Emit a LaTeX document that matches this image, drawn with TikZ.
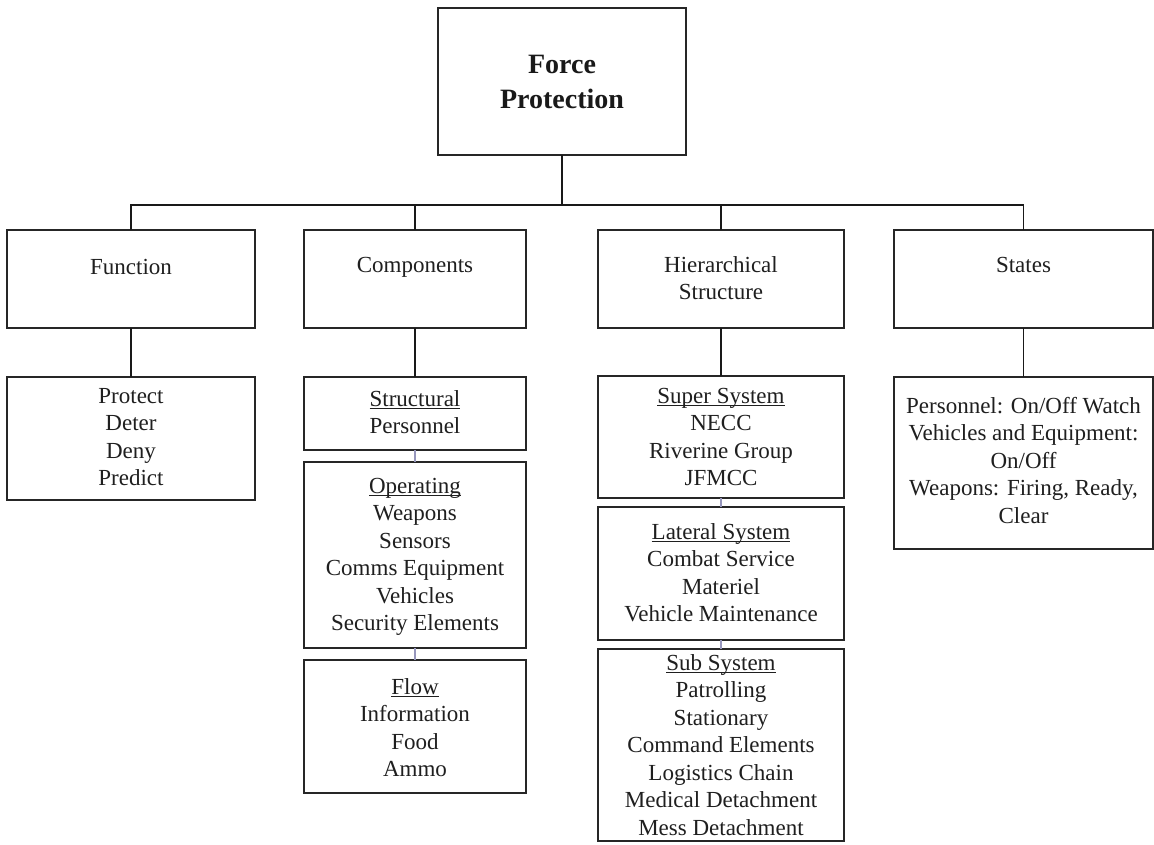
\documentclass[tikz,border=0pt]{standalone}
\usepackage{fontspec}
\setmainfont{Liberation Serif}
\definecolor{linkc}{RGB}{150,150,188}
\newcommand{\myul}[1]{\setbox0\hbox{#1}\rlap{\rule[-2.6pt]{\wd0}{1.1pt}}\box0}
\newcommand{\myst}{\rule{0pt}{16pt}}
\begin{document}
\begin{tikzpicture}[x=1pt,y=-1pt,
  box/.style={draw=black!85, line width=1.8pt, anchor=north west, inner sep=0pt, outer sep=0pt},
  txt/.style={anchor=north, align=center, inner sep=0pt, text=black!88,
    font=\fontsize{23}{27.5}\selectfont},
  ttl/.style={anchor=north, align=center, inner sep=0pt, text=black!90,
    font=\fontsize{28}{35}\selectfont\bfseries},
  conn/.style={draw=black!90, line width=1.8pt},
  link/.style={draw=linkc, line width=1.2pt}]
\useasboundingbox (0,0) rectangle (1154,844);
\fill[white] (0,0) rectangle (1154,844);
% title
\node[box, minimum width=248, minimum height=147] (title) at (438,8) {};
\node[ttl] (ttitle) at (562,53) {\rule{0pt}{20pt}Force\\Protection};
% header boxes
\node[box, minimum width=248, minimum height=98] (fun) at (7,230) {};
\node[box, minimum width=222, minimum height=98] (comp) at (304,230) {};
\node[box, minimum width=246, minimum height=98] (hier) at (598,230) {};
\node[box, minimum width=259, minimum height=98] (stat) at (894,230) {};
\node[txt] (tfun) at (fun.north |- 0,258) {\myst Function};
\node[txt] (tcomp) at (comp.north |- 0,256) {\myst Components};
\node[txt] (thier) at (hier.north |- 0,256) {\myst Hierarchical\\Structure};
\node[txt] (tstat) at (stat.north |- 0,256) {\myst States};
% detail boxes
\node[box, minimum width=248, minimum height=123] (fund) at (7,377) {};
\node[txt] (tfund) at (fund.north |- 0,387) {\myst Protect\\Deter\\Deny\\Predict};
\node[box, minimum width=222, minimum height=73] (struct) at (304,377) {};
\node[txt] (tstruct) at (struct.north |- 0,390) {\myst\myul{Structural}\\Personnel};
\node[box, minimum width=222, minimum height=186] (oper) at (304,462) {};
\node[txt] (toper) at (oper.north |- 0,477) {\myst\myul{Operating}\\Weapons\\Sensors\\Comms Equipment\\Vehicles\\Security Elements};
\node[box, minimum width=222, minimum height=133] (flow) at (304,660) {};
\node[txt] (tflow) at (flow.north |- 0,678) {\myst\myul{Flow}\\Information\\Food\\Ammo};
\node[box, minimum width=246, minimum height=122] (super) at (598,376) {};
\node[txt] (tsuper) at (super.north |- 0,387) {\myst\myul{Super System}\\NECC\\Riverine Group\\JFMCC};
\node[box, minimum width=246, minimum height=133] (lat) at (598,507) {};
\node[txt] (tlat) at (lat.north |- 0,523) {\myst\myul{Lateral System}\\Combat Service\\Materiel\\Vehicle Maintenance};
\node[box, minimum width=246, minimum height=192] (sub) at (598,649) {};
\node[txt] (tsub) at (sub.north |- 0,654) {\myst\myul{Sub System}\\Patrolling\\Stationary\\Command Elements\\Logistics Chain\\Medical Detachment\\Mess Detachment};
\node[box, minimum width=259, minimum height=172] (statd) at (894,377) {};
\node[txt] (tstatd) at (statd.north |- 0,397) {\myst Personnel: On/Off Watch\\Vehicles and Equipment:\\On/Off\\Weapons: Firing, Ready,\\Clear};
% connectors
\coordinate (bus) at (title.south |- 0,205);
\draw[conn] (title.south) -- (bus);
\draw[conn] (bus) -| (fun.north);
\draw[conn] (bus) -| (comp.north);
\draw[conn] (bus) -| (hier.north);
\draw[conn] (bus) -| (stat.north);
\draw[conn] (fun.south) -- (fund.north);
\draw[conn] (comp.south) -- (struct.north);
\draw[conn] (hier.south) -- (super.north);
\draw[conn] (stat.south) -- (statd.north);
\draw[link] (struct.south) -- (oper.north);
\draw[link] (oper.south) -- (flow.north);
\draw[link] (super.south) -- (lat.north);
\draw[link] (lat.south) -- (sub.north);
\end{tikzpicture}
\end{document}
